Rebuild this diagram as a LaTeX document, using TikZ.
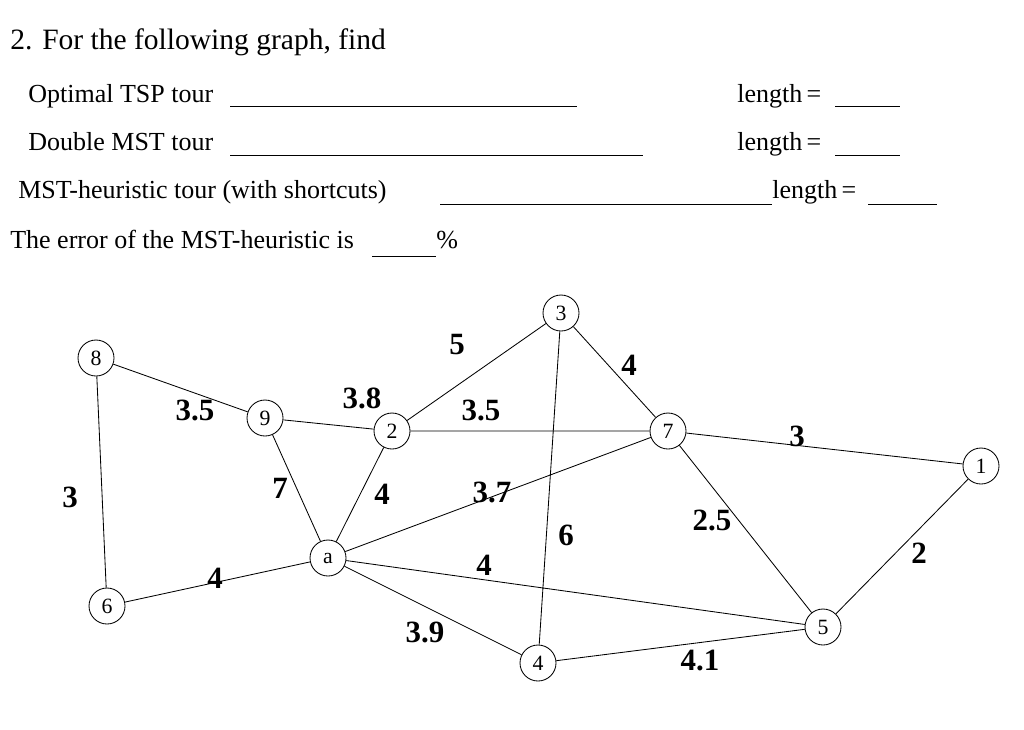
\documentclass[tikz,border=0pt]{standalone}
\usepackage{fontspec}
\setmainfont{Liberation Serif}
\begin{document}
\begin{tikzpicture}[x=0.025cm,y=-0.025cm,
  v/.style={circle,draw,line width=0.6pt,minimum size=36*0.025cm,inner sep=0pt,font=\fontsize{15.5}{17}\selectfont,fill=white},
  w/.style={font=\bfseries\fontsize{22}{24}\selectfont},
  t/.style={anchor=base west,font=\fontsize{18.5}{21}\selectfont,inner sep=0pt},
  e/.style={line width=0.6pt},
  u/.style={line width=0.6pt}]
\useasboundingbox (0,0) rectangle (1024,729);
\node[t] (h) at (10,50) {\fontsize{21}{24}\selectfont 2. For the following graph, find};
\node[t] (l1) at (28,102) {Optimal TSP tour};
\node[t] (l2) at (28,150) {Double MST tour};
\node[t] (l3) at (18,198) {MST-heuristic tour (with shortcuts)};
\node[t] (l4) at (10,248) {The error of the MST-heuristic is};
\node[t] (p) at (436,248) {\%};
\node[t] (len1) at (737,102) {length\,=};
\node[t] (len2) at (737,150) {length\,=};
\node[t] (len3) at (772,198) {length\,=};
\draw[u] (230,106)--(577,106) (835,106)--(900,106);
\draw[u] (230,155)--(643,155) (835,155)--(900,155);
\draw[u] (440,204)--(772,204) (868,204)--(937,204);
\draw[u] (372,256)--(436,256);
\node[v] (n8) at (96,358) {8};
\node[v] (n9) at (265,418) {9};
\node[v] (n2) at (392,431) {2};
\node[v] (n3) at (561,313) {3};
\node[v] (n7) at (668,431) {7};
\node[v] (n1) at (981,466) {1};
\node[v] (na) at (328,558) {a};
\node[v] (n6) at (107,606) {6};
\node[v] (n4) at (538,663) {4};
\node[v] (n5) at (823,627) {5};
\draw[e] (n8)--(n9) (n8)--(n6) (n9)--(n2) (n9)--(na) (n2)--(na) (n2)--(n3) (n2)--(n7)
 (n3)--(n7) (n3)--(n4) (n7)--(n1) (n7)--(na) (n7)--(n5) (na)--(n6) (na)--(n4) (na)--(n5)
 (n4)--(n5) (n5)--(n1);
\node[w] at (195,410) {3.5};
\node[w] at (70,497) {3};
\node[w] at (457,345) {5};
\node[w] at (629,365) {4};
\node[w] at (362,398) {3.8};
\node[w] at (481,410) {3.5};
\node[w] at (280,488) {7};
\node[w] at (382,494) {4};
\node[w] at (492,492) {3.7};
\node[w] at (797,436) {3};
\node[w] at (566,535) {6};
\node[w] at (712,520) {2.5};
\node[w] at (919,553) {2};
\node[w] at (215,578) {4};
\node[w] at (484,565) {4};
\node[w] at (425,632) {3.9};
\node[w] at (700,660) {4.1};
\end{tikzpicture}
\end{document}
